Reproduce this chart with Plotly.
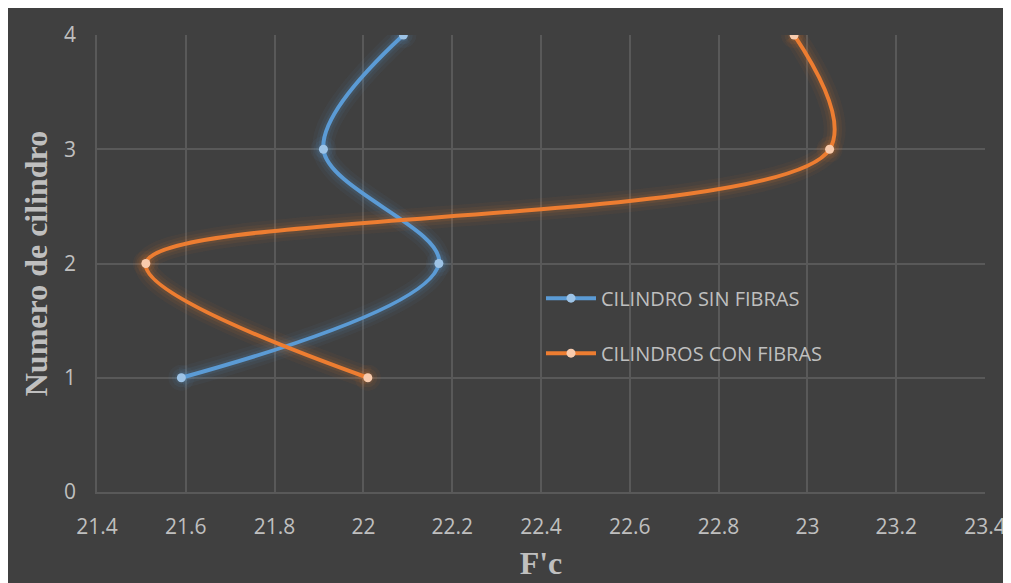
import plotly.graph_objects as go

cilindros = [1, 2, 3, 4]
sin_fibras = [21.59, 22.17, 21.91, 22.09]
con_fibras = [22.01, 21.51, 23.05, 22.97]
x_ticks = [21.4, 21.6, 21.8, 22.0, 22.2, 22.4, 22.6, 22.8, 23.0, 23.2, 23.4]
x_tick_text = ["21.4", "21.6", "21.8", "22", "22.2", "22.4", "22.6", "22.8", "23", "23.2", "23.4"]
y_ticks = [0, 1, 2, 3, 4]

series = [
    ("CILINDRO SIN FIBRAS", sin_fibras, "#5b9bd5", "#9dc3e6", (91, 155, 213)),
    ("CILINDROS CON FIBRAS", con_fibras, "#ed7d31", "#f8cbad", (237, 125, 49)),
]

fig = go.Figure()

# soft glow layers
for name, xs, col, mcol, rgb in series:
    for w, a in [(22, 0.05), (15, 0.07), (9, 0.10)]:
        fig.add_trace(go.Scatter(
            x=xs, y=cilindros, mode="lines+markers",
            line=dict(color=f"rgba({rgb[0]},{rgb[1]},{rgb[2]},{a})", width=w, shape="spline", smoothing=1),
            marker=dict(size=w + 4, color=f"rgba({rgb[0]},{rgb[1]},{rgb[2]},{a})"),
            showlegend=False, hoverinfo="skip"))

for i, (name, xs, col, mcol, rgb) in enumerate(series):
    fig.add_trace(go.Scatter(
        x=xs, y=cilindros, mode="lines+markers", name=name, legendgroup=f"g{i}",
        line=dict(color=col, width=4, shape="spline", smoothing=1),
        marker=dict(size=9, color=mcol)))

# the page shows the figure 8px in from the top-left corner; extra is cropped
W, H = 1011, 583
l, r, t, b = 89, 34, 27, 99

fig.update_layout(
    width=W, height=H,
    margin=dict(l=l, r=r, t=t, b=b),
    paper_bgcolor="#404040",
    plot_bgcolor="#404040",
    font=dict(family="Open Sans", color="#bfbfbf", size=21),
    legend=dict(x=0.5, y=0.364, xanchor="left", yanchor="middle",
                bgcolor="rgba(0,0,0,0)", font=dict(size=20, color="#bfbfbf"),
                traceorder="grouped", tracegroupgap=26, itemwidth=50),
    showlegend=True,
)

fig.update_xaxes(
    range=[21.4, 23.4], tickvals=x_ticks, ticktext=x_tick_text,
    showgrid=True, gridcolor="#595959", gridwidth=1.5,
    showline=True, linecolor="#595959", linewidth=1.5,
    zeroline=False, ticks="", ticklen=0, ticklabelstandoff=15,
    tickfont=dict(size=21, color="#bfbfbf"),
    title=dict(text="F'c", font=dict(family="Liberation Serif", size=32, color="#bfbfbf", weight="bold"), standoff=13),
)
fig.update_yaxes(
    range=[0, 4], tickvals=y_ticks,
    showgrid=True, gridcolor="#595959", gridwidth=1.5,
    showline=True, linecolor="#595959", linewidth=1.5,
    zeroline=False, ticks="", ticklen=0, ticklabelstandoff=15,
    tickfont=dict(size=21, color="#bfbfbf"),
    title=dict(text="Numero de cilindro", font=dict(family="Liberation Serif", size=32, color="#bfbfbf", weight="bold"), standoff=7),
)

fig.write_html("out.html")
